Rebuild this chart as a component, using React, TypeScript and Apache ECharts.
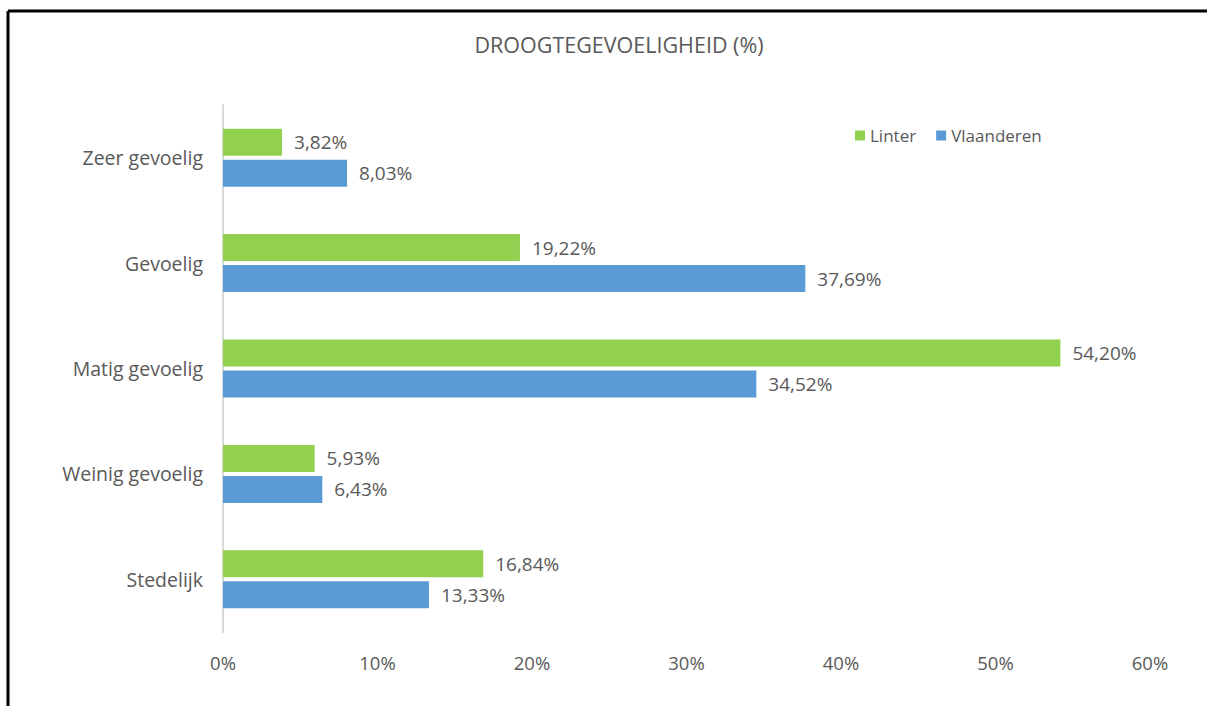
import React, { useEffect, useRef } from "react";
import * as echarts from "echarts";

const categories = ["Zeer gevoelig", "Gevoelig", "Matig gevoelig", "Weinig gevoelig", "Stedelijk"];
const linterValues = [3.82, 19.22, 54.2, 5.93, 16.84];
const vlaanderenValues = [8.03, 37.69, 34.52, 6.43, 13.33];
const xTicks = [0, 10, 20, 30, 40, 50, 60];
const titleText = "DROOGTEGEVOELIGHEID (%)";

const FONT = "'Open Sans', sans-serif";
const GREY = "#595959";

export default function App() {
  const ref = useRef<HTMLDivElement>(null);
  useEffect(() => {
    if (!ref.current) return;
    const chart = echarts.init(ref.current, null, { renderer: "svg" });
    const fmt = (v: number) => v.toFixed(2).replace(".", ",") + "%";
    const labelCfg = {
      show: true,
      position: "right",
      distance: 12,
      fontFamily: FONT,
      fontSize: 19,
      color: GREY,
      formatter: (p: any) => fmt(p.value),
    };
    chart.setOption({
      animation: false,
      backgroundColor: "#ffffff",
      textStyle: { fontFamily: FONT },
      title: {
        text: titleText,
        left: 614,
        textAlign: "center",
        top: 28,
        textStyle: { fontFamily: FONT, fontSize: 21.5, fontWeight: "normal", color: GREY },
      },
      legend: {
        data: ["Linter", "Vlaanderen"],
        left: 850,
        top: 122,
        itemWidth: 10,
        itemHeight: 10,
        itemGap: 20,
        icon: "rect",
        textStyle: { fontFamily: FONT, fontSize: 17, color: GREY },
      },
      grid: { left: 223, right: 57, top: 105, bottom: 74, containLabel: false },
      xAxis: {
        type: "value",
        min: 0,
        max: 60,
        interval: 10,
        axisLine: { show: false },
        axisTick: { show: false },
        splitLine: { show: false },
        axisLabel: {
          margin: 21,
          fontFamily: FONT,
          fontSize: 18.5,
          color: GREY,
          formatter: (v: number) => (xTicks.includes(v) ? v + "%" : ""),
        },
      },
      yAxis: {
        type: "category",
        data: categories,
        inverse: true,
        axisLine: { show: true, lineStyle: { color: "#d9d9d9", width: 2 } },
        axisTick: { show: false },
        axisLabel: { margin: 20, fontFamily: FONT, fontSize: 19.5, color: GREY },
      },
      series: [
        {
          name: "Linter",
          type: "bar",
          data: linterValues,
          itemStyle: { color: "#92D050" },
          barCategoryGap: "45%",
          barGap: "15%",
          label: labelCfg,
        },
        {
          name: "Vlaanderen",
          type: "bar",
          data: vlaanderenValues,
          itemStyle: { color: "#5B9BD5" },
          barCategoryGap: "45%",
          barGap: "15%",
          label: labelCfg,
        },
      ],
      graphic: [
        { type: "line", shape: { x1: 8, y1: 11, x2: 1207, y2: 11 }, style: { stroke: "#000", lineWidth: 3 } },
        { type: "line", shape: { x1: 8, y1: 11, x2: 8, y2: 706 }, style: { stroke: "#000", lineWidth: 3 } },
      ],
    });
    return () => chart.dispose();
  }, []);
  return (
    <div
      ref={ref}
      style={{ position: "absolute", left: 0, top: 0, width: 1207, height: 706 }}
    />
  );
}
